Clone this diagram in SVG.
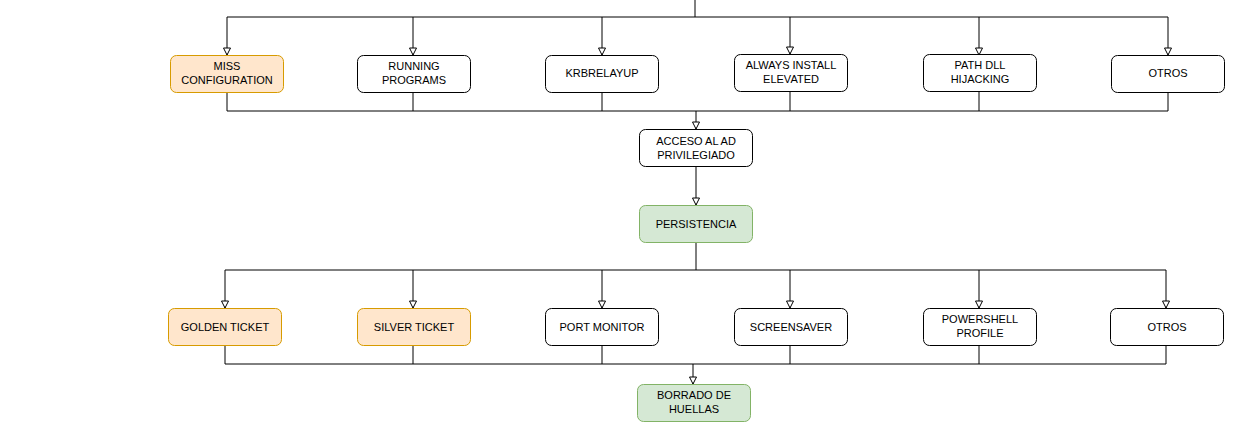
<svg xmlns="http://www.w3.org/2000/svg" width="1250" height="424" viewBox="0 0 1250 424">
<style>
.n rect{fill:#fff;stroke:#000;stroke-width:1}
.o rect{fill:#ffe6cc;stroke:#d79b00}
.g rect{fill:#d5e8d4;stroke:#82b366}
text{font-family:"Liberation Sans",Arial,sans-serif;font-size:11px;fill:#000;text-anchor:middle}
.c path{fill:none;stroke:#000;stroke-width:1}
</style>
<defs>
<marker id="a" markerUnits="userSpaceOnUse" markerWidth="10" markerHeight="10" viewBox="0 0 10 10" refX="8" refY="5" orient="auto">
<path d="M1,1.5 L8,5 L1,8.5 Z" fill="#fff" stroke="#000" stroke-width="1"/>
</marker>
</defs>
<g class="c">
<path d="M695,0 V17 M227,17 H1168"/>
<path d="M227,17 V55" marker-end="url(#a)"/>
<path d="M413,17 V55" marker-end="url(#a)"/>
<path d="M602,17 V55" marker-end="url(#a)"/>
<path d="M790,17 V54" marker-end="url(#a)"/>
<path d="M979,17 V55" marker-end="url(#a)"/>
<path d="M1168,17 V55" marker-end="url(#a)"/>
<path d="M227,92 V111 H1168 V92 M413,92 V111 M602,92 V111 M790,92 V111 M979,92 V111"/>
<path d="M696,111 V129" marker-end="url(#a)"/>
<path d="M696,167 V205" marker-end="url(#a)"/>
<path d="M696,242 V270 M225,270 H1166"/>
<path d="M225,270 V308" marker-end="url(#a)"/>
<path d="M413,270 V308" marker-end="url(#a)"/>
<path d="M602,270 V308" marker-end="url(#a)"/>
<path d="M790,270 V308" marker-end="url(#a)"/>
<path d="M979,270 V308" marker-end="url(#a)"/>
<path d="M1166,270 V308" marker-end="url(#a)"/>
<path d="M225,346 V364 H1166 V346 M413,346 V364 M602,346 V364 M790,346 V364 M979,346 V364"/>
<path d="M693,364 V384" marker-end="url(#a)"/>
</g>
<g id="miss" class="n o"><rect x="170.5" y="55.5" width="113" height="37" rx="6"/><text x="227" y="70">MISS</text><text x="227" y="84">CONFIGURATION</text></g>
<g id="running" class="n"><rect x="357.5" y="55.5" width="113" height="37" rx="6"/><text x="414" y="70">RUNNING</text><text x="414" y="84">PROGRAMS</text></g>
<g id="krb" class="n"><rect x="545.5" y="55.5" width="113" height="37" rx="6"/><text x="602" y="77">KRBRELAYUP</text></g>
<g id="always" class="n"><rect x="734.5" y="54.5" width="113" height="37" rx="6"/><text x="791" y="69">ALWAYS INSTALL</text><text x="791" y="83">ELEVATED</text></g>
<g id="pathdll" class="n"><rect x="923.5" y="54.5" width="113" height="37" rx="6"/><text x="980" y="69">PATH DLL</text><text x="980" y="83">HIJACKING</text></g>
<g id="otros1" class="n"><rect x="1111.5" y="55.5" width="113" height="37" rx="6"/><text x="1168" y="77">OTROS</text></g>
<g id="acceso" class="n"><rect x="639.5" y="129.5" width="113" height="37" rx="6"/><text x="696" y="145">ACCESO AL AD</text><text x="696" y="159">PRIVILEGIADO</text></g>
<g id="persistencia" class="n g"><rect x="639.5" y="205.5" width="113" height="37" rx="6"/><text x="696" y="228">PERSISTENCIA</text></g>
<g id="golden" class="n o"><rect x="168.5" y="308.5" width="113" height="37" rx="6"/><text x="225" y="331">GOLDEN TICKET</text></g>
<g id="silver" class="n o"><rect x="357.5" y="308.5" width="113" height="37" rx="6"/><text x="414" y="331">SILVER TICKET</text></g>
<g id="port" class="n"><rect x="545.5" y="308.5" width="113" height="37" rx="6"/><text x="602" y="331">PORT MONITOR</text></g>
<g id="screensaver" class="n"><rect x="734.5" y="308.5" width="113" height="37" rx="6"/><text x="791" y="331">SCREENSAVER</text></g>
<g id="powershell" class="n"><rect x="923.5" y="308.5" width="113" height="37" rx="6"/><text x="980" y="323">POWERSHELL</text><text x="980" y="337">PROFILE</text></g>
<g id="otros2" class="n"><rect x="1110.5" y="308.5" width="113" height="37" rx="6"/><text x="1167" y="331">OTROS</text></g>
<g id="borrado" class="n g"><rect x="637.5" y="384.5" width="113" height="37" rx="6"/><text x="694" y="399">BORRADO DE</text><text x="694" y="413">HUELLAS</text></g>
</svg>
